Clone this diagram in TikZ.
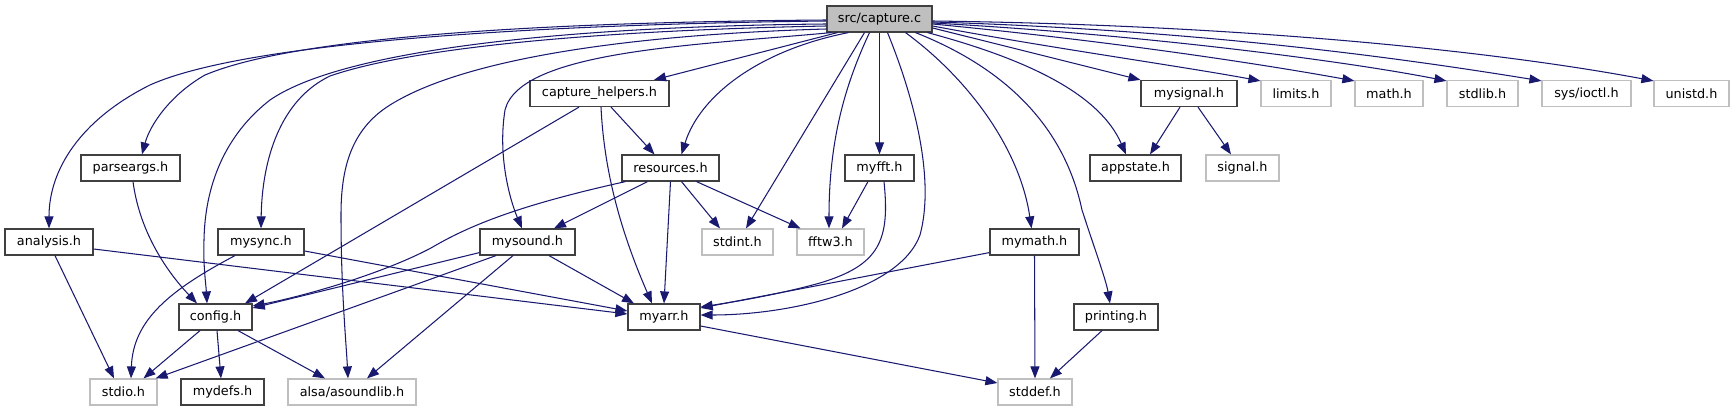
\documentclass[tikz,border=0pt]{standalone}
\usepackage{fontspec}
\setmainfont{DejaVu Sans}
\usetikzlibrary{arrows.meta}
\definecolor{edgec}{HTML}{191970}
\definecolor{darkb}{HTML}{404040}
\definecolor{lgray}{HTML}{BFBFBF}
\begin{document}
\begin{tikzpicture}[x=1pt,y=-1pt,
  box/.style={draw=darkb, line width=1.2pt, fill=white, inner sep=0pt, minimum height=26pt,
    font=\fontsize{12.8}{15}\selectfont, text=black},
  ext/.style={box, draw=lgray},
  rootbox/.style={box, fill=lgray},
  dep/.style={draw=edgec, line width=1.05pt, -{Triangle[length=12pt,width=9pt]}}
]
\useasboundingbox (0,0) rectangle (1735,411);
% row 1
\node[rootbox, minimum width=105pt] (root) at (879.5,19) {src/capture.c};
% row 2
\node[box, minimum width=139pt] (ch) at (599.5,93.5) {capture\_helpers.h};
\node[box, minimum width=96pt] (mysig) at (1189,93.5) {mysignal.h};
\node[ext, minimum width=70pt] (limits) at (1296,93.5) {limits.h};
\node[ext, minimum width=68pt] (math) at (1389,93.5) {math.h};
\node[ext, minimum width=71pt] (stdlib) at (1482.5,93.5) {stdlib.h};
\node[ext, minimum width=89pt] (ioctl) at (1586.5,93.5) {sys/ioctl.h};
\node[ext, minimum width=75pt] (unistd) at (1691.5,93.5) {unistd.h};
% row 3
\node[box, minimum width=99pt] (parse) at (130.5,168) {parseargs.h};
\node[box, minimum width=97pt] (res) at (670.5,168) {resources.h};
\node[box, minimum width=69pt] (fft) at (879.5,168) {myfft.h};
\node[box, minimum width=91pt] (app) at (1135.5,168) {appstate.h};
\node[ext, minimum width=73pt] (signal) at (1242.5,168) {signal.h};
% row 4
\node[box, minimum width=88pt] (analysis) at (49,242) {analysis.h};
\node[box, minimum width=86pt] (mysync) at (261,242) {mysync.h};
\node[box, minimum width=95pt] (mysound) at (527.5,242) {mysound.h};
\node[ext, minimum width=71pt] (stdint) at (737.5,242) {stdint.h};
\node[ext, minimum width=67pt] (fftw) at (830.5,242) {fftw3.h};
\node[box, minimum width=89pt] (mymath) at (1034.5,242) {mymath.h};
% row 5
\node[box, minimum width=73pt] (config) at (215.5,317) {config.h};
\node[box, minimum width=72pt] (myarr) at (664,317) {myarr.h};
\node[box, minimum width=84pt] (printing) at (1116,317) {printing.h};
% row 6
\node[ext, minimum width=67pt] (stdio) at (123.5,392) {stdio.h};
\node[box, minimum width=83pt] (mydefs) at (222.5,392) {mydefs.h};
\node[ext, minimum width=128pt] (alsa) at (352,392) {alsa/asoundlib.h};
\node[ext, minimum width=74pt] (stddef) at (1035,392) {stddef.h};

% edges from src/capture.c, left side
\draw[dep] ([yshift=-2pt]root.west) .. controls (560,24) and (250,40) .. (150,85)
  .. controls (80,120) and (49,170) .. (analysis.north);
\draw[dep] ([yshift=-1pt]root.west) .. controls (560,22) and (300,35) .. (205,75)
  .. controls (170,95) and (150,125) .. ([xshift=11.5pt]parse.north);
\draw[dep] ([yshift=-5pt]root.west) .. controls (600,26) and (350,45) .. (270,100)
  .. controls (225,135) and (205,185) .. (204,240)
  .. controls (203,265) and (206,285) .. ([xshift=-8.5pt]config.north);
\draw[dep] ([yshift=-7pt]root.west) .. controls (620,30) and (420,45) .. (330,76)
  .. controls (280,100) and (262,160) .. (mysync.north);
\draw[dep] ([yshift=-10pt]root.west) .. controls (650,34) and (470,55) .. (390,105)
  .. controls (350,130) and (341,170) .. (341,215)
  .. controls (341,290) and (346,340) .. ([xshift=-4pt]alsa.north);
\draw[dep] ([xshift=-48pt]root.south) .. controls (700,45) and (520,50) .. (505,110)
  .. controls (497,160) and (512,205) .. ([xshift=-5.5pt]mysound.north);
\draw[dep] ([xshift=-42pt]root.south) -- ([xshift=54.5pt]ch.north);
\draw[dep] ([xshift=-31pt]root.south) .. controls (760,50) and (700,95) .. ([xshift=11pt]res.north);
\draw[dep] ([xshift=-15pt]root.south) -- ([xshift=8.5pt]stdint.north);
\draw[dep] ([xshift=-10pt]root.south) .. controls (845,85) and (829,140) .. ([xshift=-1.5pt]fftw.north);
\draw[dep] (root.south) -- (fft.north);
\draw[dep] ([xshift=8pt]root.south) .. controls (915,100) and (935,180) .. (920,235)
  .. controls (900,290) and (790,315) .. ([yshift=2pt]myarr.east);
\draw[dep] ([xshift=26pt]root.south) .. controls (970,80) and (1020,150) .. ([xshift=-3pt]mymath.north);
\draw[dep] ([xshift=36pt]root.south) .. controls (1010,70) and (1065,130) .. (1082,210)
  .. controls (1095,250) and (1106,280) .. ([xshift=-6pt]printing.north);
\draw[dep] ([xshift=48pt]root.south) .. controls (1030,60) and (1100,95) .. ([xshift=-9.5pt]app.north);
% edges from src/capture.c, right side
\draw[dep] ([yshift=-9pt]root.east) -- (mysig.north west);
\draw[dep] ([yshift=-7pt]root.east) .. controls (1050,48) and (1180,66) .. ([yshift=-1pt]limits.north west);
\draw[dep] ([yshift=-5pt]root.east) .. controls (1100,40) and (1250,62) .. ([yshift=-1pt]math.north west);
\draw[dep] ([yshift=-4pt]root.east) .. controls (1150,35) and (1350,62) .. ([yshift=-1pt]stdlib.north west);
\draw[dep] ([yshift=-3pt]root.east) .. controls (1200,30) and (1400,58) .. ([yshift=-1pt]ioctl.north west);
\draw[dep] ([yshift=-2pt]root.east) .. controls (1250,25) and (1500,52) .. ([yshift=-1pt]unistd.north west);

% other edges
\draw[dep] ([xshift=-20.5pt]ch.south) -- ([xshift=29.5pt]config.north);
\draw[dep] ([xshift=11.5pt]ch.south) -- ([xshift=-16pt]res.north);
\draw[dep] ([xshift=1.5pt]ch.south) .. controls (604,170) and (620,230) .. ([xshift=-12pt]myarr.north);
\draw[dep] ([xshift=-45pt]res.south) .. controls (520,205) and (470,225) .. (431,248)
  .. controls (380,275) and (300,297) .. ([yshift=11pt]config.east);
\draw[dep] ([xshift=-23pt]res.south) -- ([xshift=26.5pt]mysound.north);
\draw[dep] (res.south) -- (myarr.north);
\draw[dep] ([xshift=11pt]res.south) -- ([xshift=-17.5pt]stdint.north);
\draw[dep] ([xshift=26pt]res.south) -- ([xshift=-30pt]fftw.north);
\draw[dep] ([xshift=-11.5pt]fft.south) -- ([xshift=11.5pt]fftw.north);
\draw[dep] ([xshift=4.5pt]fft.south) .. controls (890,240) and (880,265) .. (820,283)
  .. controls (780,294) and (740,301) .. ([yshift=10pt]myarr.east);
\draw[dep] ([yshift=3pt]mymath.south west) -- ([yshift=9pt]myarr.east);
\draw[dep] (mymath.south) -- (stddef.north);
\draw[dep] ([xshift=-14pt]printing.south) -- ([xshift=15pt]stddef.north);
\draw[dep] ([yshift=-9pt]myarr.east) -- ([yshift=9pt]stddef.west);
\draw[dep] ([yshift=3pt]mysound.south west) -- ([yshift=9pt]config.east);
\draw[dep] ([xshift=-31.5pt]mysound.south) -- ([xshift=-2pt]stdio.north east);
\draw[dep] ([xshift=-14.5pt]mysound.south) -- ([xshift=15pt]alsa.north);
\draw[dep] ([xshift=21.5pt]mysound.south) -- ([xshift=-30pt]myarr.north);
\draw[dep] ([xshift=6pt]analysis.south) -- ([xshift=-9.5pt]stdio.north);
\draw[dep] ([yshift=-7pt]analysis.east) -- ([yshift=3pt]myarr.west);
\draw[dep] ([xshift=-26pt]mysync.south) .. controls (170,290) and (133,320) .. ([xshift=7.5pt]stdio.north);
\draw[dep] ([yshift=-9pt]mysync.east) -- ([yshift=6pt]myarr.west);
\draw[dep] ([xshift=2.5pt]parse.south) .. controls (140,235) and (170,275) .. ([xshift=-18.5pt]config.north);
\draw[dep] ([xshift=-15.5pt]config.south) -- ([xshift=20pt]stdio.north);
\draw[dep] ([xshift=1.5pt]config.south) -- ([xshift=-1.5pt]mydefs.north);
\draw[dep] ([xshift=22.5pt]config.south) -- ([xshift=-27pt]alsa.north);
\draw[dep] ([xshift=-9pt]mysig.south) -- ([xshift=14.5pt]app.north);
\draw[dep] ([xshift=9pt]mysig.south) -- ([xshift=-11.5pt]signal.north);
\end{tikzpicture}
\end{document}
